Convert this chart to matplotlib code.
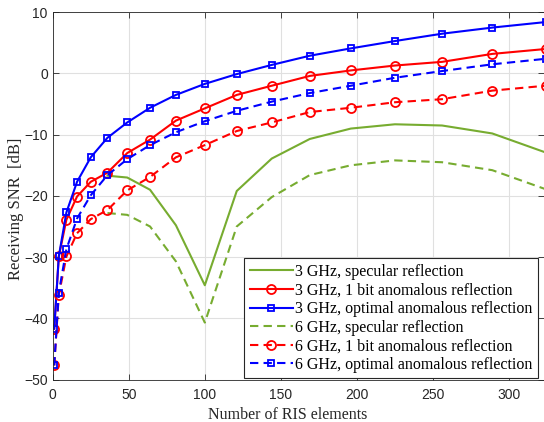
import matplotlib
matplotlib.use("Agg")
import matplotlib.pyplot as plt

N = [1, 4, 9, 16, 25, 36, 49, 64, 81, 100, 121, 144, 169, 196, 225, 256, 289, 324]
N_spec = N[5:]

snr_3g_opt = [-41.7, -29.9, -22.7, -17.7, -13.7, -10.5, -8.0, -5.6, -3.5, -1.7, -0.1, 1.4, 2.9, 4.1, 5.3, 6.5, 7.5, 8.4]
snr_3g_1bit = [-41.7, -29.9, -23.9, -20.1, -17.7, -16.2, -13.0, -10.8, -7.7, -5.7, -3.5, -2.0, -0.4, 0.5, 1.3, 1.9, 3.2, 4.0]
snr_6g_opt = [-47.7, -35.8, -28.7, -23.7, -19.9, -16.6, -14.0, -11.7, -9.6, -7.8, -6.1, -4.6, -3.2, -2.0, -0.7, 0.4, 1.5, 2.4]
snr_6g_1bit = [-47.7, -36.2, -29.9, -26.1, -23.8, -22.3, -19.1, -16.9, -13.7, -11.7, -9.4, -8.0, -6.3, -5.6, -4.7, -4.2, -2.8, -2.0]
snr_3g_spec = [-16.7, -17.0, -19.0, -24.8, -34.6, -19.2, -13.9, -10.7, -9.0, -8.3, -8.5, -9.8, -12.9]
snr_6g_spec = [-22.8, -23.1, -25.0, -30.7, -40.7, -25.0, -20.2, -16.6, -15.0, -14.2, -14.5, -15.8, -18.9]

labels = ["3 GHz, specular reflection",
          "3 GHz, 1 bit anomalous reflection",
          "3 GHz, optimal anomalous reflection",
          "6 GHz, specular reflection",
          "6 GHz, 1 bit anomalous reflection",
          "6 GHz, optimal anomalous reflection"]

xticks = [0, 50, 100, 150, 200, 250, 300]
yticks = [-50, -40, -30, -20, -10, 0, 10]

green = "#77AC30"
fig = plt.figure(figsize=(5.44, 4.22), dpi=100)
ax = fig.add_axes([0.0969, 0.1007, 0.9031, 0.8702])

lw = 1.5
dash = (4, 2.5)
ax.plot(N_spec, snr_3g_spec, color=green, lw=lw, label=labels[0])
ax.plot(N, snr_3g_1bit, color="r", lw=lw, marker="o", ms=6.5, mfc="none", mew=1.3, label=labels[1])
ax.plot(N, snr_3g_opt, color="b", lw=lw, marker="s", ms=5, mfc="none", mew=1.3, label=labels[2])
ax.plot(N_spec, snr_6g_spec, color=green, lw=lw, ls=(0, dash), label=labels[3])
ax.plot(N, snr_6g_1bit, color="r", lw=lw, ls=(0, dash), marker="o", ms=6.5, mfc="none", mew=1.3, label=labels[4])
ax.plot(N, snr_6g_opt, color="b", lw=lw, ls=(0, dash), marker="s", ms=5, mfc="none", mew=1.3, label=labels[5])

ax.set_xlim(0, 323)
ax.set_ylim(-50, 10)
ax.set_xticks(xticks)
ax.set_yticks(yticks)
ax.grid(True, color="#e0e0e0", lw=0.8)
ax.set_axisbelow(True)
ax.tick_params(direction="in", length=4, top=True, right=True, labelsize=10,
               colors="#262626", width=0.6)
ax.tick_params(axis="x", pad=6)
for lbl in ax.get_xticklabels() + ax.get_yticklabels():
    lbl.set_family("Liberation Sans")
for s in ax.spines.values():
    s.set_color("#262626")
    s.set_linewidth(0.6)

ax.set_xlabel("Number of RIS elements", family="Liberation Serif", fontsize=11.5, color="#262626")
ax.set_ylabel("Receiving SNR  [dB]", family="Liberation Serif", fontsize=12, color="#262626")
ax.xaxis.set_label_coords(0.478, -0.075)
ax.yaxis.set_label_coords(-0.058, 0.466)

leg = ax.legend(loc="lower right", bbox_to_anchor=(0.987, 0.003), borderaxespad=0,
                prop={"family": "Liberation Serif", "size": 11.5}, fancybox=False,
                framealpha=1, edgecolor="#262626", handlelength=2.7, handletextpad=0.1,
                labelspacing=0.16, borderpad=0.35)
leg.get_frame().set_linewidth(0.8)

fig.savefig("out.png", dpi=100)
